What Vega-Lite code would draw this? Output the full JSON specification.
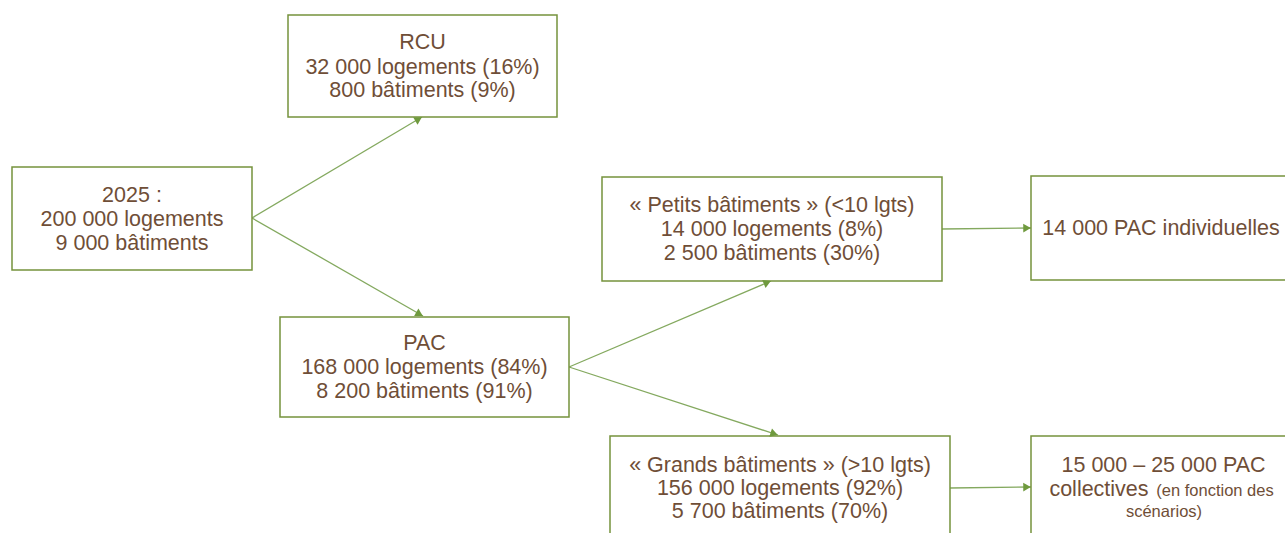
{
  "$schema": "https://vega.github.io/schema/vega-lite/v6.json",
  "width": 1285,
  "height": 533,
  "autosize": {"type": "fit", "contains": "padding"},
  "padding": 0,
  "background": "white",
  "config": {"view": {"stroke": null}},
  "datasets": {
    "boxes": [
      {"id": "2025", "x": 12, "x2": 252, "y": 167, "y2": 270},
      {"id": "RCU", "x": 288, "x2": 557, "y": 15, "y2": 117},
      {"id": "PAC", "x": 280, "x2": 569, "y": 317, "y2": 417},
      {"id": "Petits", "x": 602, "x2": 942, "y": 177, "y2": 281},
      {"id": "Grands", "x": 610, "x2": 950, "y": 436, "y2": 545},
      {"id": "PAC individuelles", "x": 1031, "x2": 1300, "y": 176, "y2": 280},
      {"id": "PAC collectives", "x": 1031, "x2": 1300, "y": 436, "y2": 545}
    ],
    "edges": [
      {"from": "2025", "to": "RCU", "x": 252, "y": 218, "x2": 422, "y2": 117},
      {"from": "2025", "to": "PAC", "x": 252, "y": 218, "x2": 423, "y2": 316},
      {"from": "PAC", "to": "Petits", "x": 569, "y": 367, "x2": 771, "y2": 281},
      {"from": "PAC", "to": "Grands", "x": 569, "y": 367, "x2": 778, "y2": 435},
      {"from": "Petits", "to": "PAC individuelles", "x": 942, "y": 229, "x2": 1031, "y2": 228},
      {"from": "Grands", "to": "PAC collectives", "x": 950, "y": 488, "x2": 1031, "y2": 487}
    ],
    "labels": [
      {"text": "2025 :", "x": 132, "y": 196},
      {"text": "200 000 logements", "x": 132, "y": 220},
      {"text": "9 000 bâtiments", "x": 132, "y": 244},
      {"text": "RCU", "x": 422.5, "y": 43},
      {"text": "32 000 logements (16%)", "x": 422.5, "y": 68},
      {"text": "800 bâtiments (9%)", "x": 422.5, "y": 91},
      {"text": "PAC", "x": 424.5, "y": 344},
      {"text": "168 000 logements (84%)", "x": 424.5, "y": 368},
      {"text": "8 200 bâtiments (91%)", "x": 424.5, "y": 392},
      {"text": "« Petits bâtiments » (<10 lgts)", "x": 772, "y": 206},
      {"text": "14 000 logements (8%)", "x": 772, "y": 230},
      {"text": "2 500 bâtiments (30%)", "x": 772, "y": 254},
      {"text": "14 000 PAC individuelles", "x": 1161, "y": 229},
      {"text": "« Grands bâtiments » (>10 lgts)", "x": 780, "y": 466},
      {"text": "156 000 logements (92%)", "x": 780, "y": 489},
      {"text": "5 700 bâtiments (70%)", "x": 780, "y": 512},
      {"text": "15 000 – 25 000 PAC", "x": 1163.5, "y": 466},
      {"text": "collectives", "x": 1099, "y": 490}
    ],
    "smallLabels": [
      {"text": "(en fonction des", "x": 1215, "y": 491},
      {"text": "scénarios)", "x": 1164, "y": 512}
    ]
  },
  "layer": [
    {
      "data": {"name": "edges"},
      "mark": {"type": "rule", "color": "#84a95f", "strokeWidth": 1.3},
      "encoding": {
        "x": {"field": "x", "type": "quantitative", "scale": {"domain": [0, 1285], "nice": false, "zero": false}, "axis": null},
        "y": {"field": "y", "type": "quantitative", "scale": {"domain": [0, 533], "nice": false, "zero": false, "reverse": true}, "axis": null},
        "x2": {"field": "x2"},
        "y2": {"field": "y2"}
      }
    },
    {
      "data": {"name": "boxes"},
      "mark": {"type": "rect", "fill": "white", "stroke": "#76923c", "strokeWidth": 1.5, "clip": true},
      "encoding": {
        "x": {"field": "x", "type": "quantitative"},
        "x2": {"field": "x2"},
        "y": {"field": "y", "type": "quantitative"},
        "y2": {"field": "y2"}
      }
    },
    {
      "data": {"name": "edges"},
      "transform": [
        {"calculate": "atan2(datum.y2 - datum.y, datum.x2 - datum.x)", "as": "rad"},
        {"calculate": "datum.rad * 180 / PI", "as": "angle"},
        {"calculate": "datum.x2 - 4 * cos(datum.rad)", "as": "ax"},
        {"calculate": "datum.y2 - 4 * sin(datum.rad)", "as": "ay"}
      ],
      "mark": {"type": "point", "shape": "triangle-right", "filled": true, "color": "#6f9a3e", "opacity": 1, "size": 75},
      "encoding": {
        "x": {"field": "ax", "type": "quantitative"},
        "y": {"field": "ay", "type": "quantitative"},
        "angle": {"field": "angle", "type": "quantitative", "scale": null}
      }
    },
    {
      "data": {"name": "labels"},
      "mark": {"type": "text", "font": "Liberation Sans", "fontSize": 21.5, "color": "#6f4e37", "align": "center", "baseline": "middle", "clip": true},
      "encoding": {
        "x": {"field": "x", "type": "quantitative"},
        "y": {"field": "y", "type": "quantitative"},
        "text": {"field": "text"}
      }
    },
    {
      "data": {"name": "smallLabels"},
      "mark": {"type": "text", "font": "Liberation Sans", "fontSize": 16.5, "color": "#6f4e37", "align": "center", "baseline": "middle"},
      "encoding": {
        "x": {"field": "x", "type": "quantitative"},
        "y": {"field": "y", "type": "quantitative"},
        "text": {"field": "text"}
      }
    }
  ]
}
